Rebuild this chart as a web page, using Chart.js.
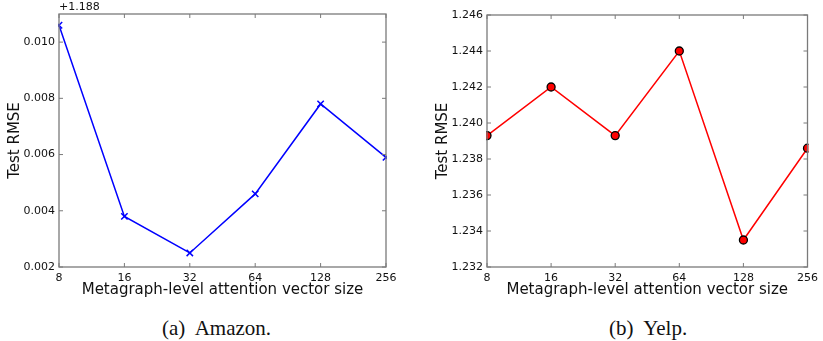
<!DOCTYPE html>
<html>
<head>
<meta charset="utf-8">
<script src="https://cdn.jsdelivr.net/npm/chart.js@4.4.0/dist/chart.umd.min.js"></script>
<style>
  body { margin: 0; background: #fff; width: 823px; height: 341px; position: relative; overflow: hidden; }
  #leftWrap { position: absolute; left: 0; top: 0; width: 410px; height: 305px; }
  #rightWrap { position: absolute; left: 410px; top: 0; width: 413px; height: 305px; }
  .caption { position: absolute; top: 316px; line-height: 24px; font-family: "Liberation Serif", "DejaVu Serif", serif; font-size: 21px; color: #111; white-space: pre; }
</style>
</head>
<body>
<div id="leftWrap"><canvas id="amazonChart" width="410" height="305"></canvas></div>
<div id="rightWrap"><canvas id="yelpChart" width="413" height="305"></canvas></div>
<div class="caption" style="left:162px">(a)  Amazon.</div>
<div class="caption" style="left:609px">(b)  Yelp.</div>

<script>
// data
const vectorSizes = ["8", "16", "32", "64", "128", "256"];

// Amazon values shown relative to the offset (+1.188), like the original plot
const amazonOffset = "+1.188";
const amazonRmse = [0.0106, 0.0038, 0.0025, 0.0046, 0.0078, 0.0059];
const amazonTicks = [0.002, 0.004, 0.006, 0.008, 0.010];

const yelpRmse = [1.2393, 1.2420, 1.2393, 1.2440, 1.2335, 1.2386];
const yelpTicks = [1.232, 1.234, 1.236, 1.238, 1.240, 1.242, 1.244, 1.246];

const tickFont = { family: "DejaVu Sans", size: 11 };
const titleFont = { family: "DejaVu Sans", size: 15 };
const frameColor = "#7a7a7a";

// frame + inward ticks on all four sides (classic matplotlib look)
const frameTicks = {
  id: "frameTicks",
  afterDraw(chart, args, opts) {
    const ctx = chart.ctx;
    const a = chart.chartArea;
    const x = chart.scales.x, y = chart.scales.y;
    ctx.save();
    ctx.strokeStyle = frameColor;
    ctx.lineWidth = 1.3;
    ctx.strokeRect(a.left, a.top, a.right - a.left, a.bottom - a.top);
    ctx.lineWidth = 1;
    ctx.beginPath();
    x.ticks.forEach((t, i) => {
      const px = x.getPixelForTick(i);
      ctx.moveTo(px, a.bottom); ctx.lineTo(px, a.bottom - 4);
      ctx.moveTo(px, a.top); ctx.lineTo(px, a.top + 4);
    });
    y.ticks.forEach((t) => {
      const py = y.getPixelForValue(t.value);
      ctx.moveTo(a.left, py); ctx.lineTo(a.left + 4, py);
      ctx.moveTo(a.right, py); ctx.lineTo(a.right - 4, py);
    });
    ctx.stroke();
    if (opts.offsetText) {
      ctx.fillStyle = "#111";
      ctx.font = "11px 'DejaVu Sans'";
      ctx.textAlign = "left";
      ctx.textBaseline = "bottom";
      ctx.fillText(opts.offsetText, a.left, a.top - 1);
    }
    ctx.restore();
  }
};

function makeChart(id, values, tickList, style) {
  return new Chart(document.getElementById(id), {
    type: "line",
    data: {
      labels: vectorSizes,
      datasets: [{
        data: values,
        borderColor: style.color,
        borderWidth: 1.5,
        pointStyle: style.point,
        pointRadius: style.radius,
        pointHoverRadius: style.radius,
        pointBackgroundColor: style.fill,
        pointBorderColor: style.pointBorder,
        pointBorderWidth: style.pointBorderWidth,
        tension: 0,
        clip: 1
      }]
    },
    options: {
      responsive: false,
      animation: false,
      events: [],
      layout: { padding: { left: 0, right: style.padRight, top: style.padTop, bottom: 0 } },
      plugins: {
        legend: { display: false },
        tooltip: { enabled: false },
        frameTicks: { offsetText: style.offsetText }
      },
      scales: {
        x: {
          type: "category",
          offset: false,
          grid: { display: false, drawTicks: false },
          border: { display: false },
          ticks: { font: tickFont, color: "#111", padding: 5, maxRotation: 0, autoSkip: false },
          title: { display: true, text: "Metagraph-level attention vector size", font: titleFont, color: "#111", padding: { top: 0, bottom: 6 } },
          afterFit(s) { s.height = 38; }
        },
        y: {
          min: tickList[0],
          max: style.yMax,
          grid: { display: false, drawTicks: false },
          border: { display: false },
          afterBuildTicks(s) { s.ticks = tickList.map(v => ({ value: v })); },
          ticks: { font: tickFont, color: "#111", padding: 4, callback: v => v.toFixed(3) },
          title: { display: true, text: "Test RMSE", font: titleFont, color: "#111", padding: { top: style.titlePad, bottom: 0 } },
          afterFit(s) { s.width = style.yWidth; }
        }
      }
    },
    plugins: [frameTicks]
  });
}

makeChart("amazonChart", amazonRmse, amazonTicks, {
  color: "#0000ff", point: "crossRot", radius: 4.5, fill: "#0000ff",
  pointBorder: "#0000ff", pointBorderWidth: 1.5,
  padRight: 24, padTop: 14, yWidth: 59, titlePad: 6, yMax: 0.011,
  offsetText: amazonOffset
});

makeChart("yelpChart", yelpRmse, yelpTicks, {
  color: "#ff0000", point: "circle", radius: 4, fill: "#ff0000",
  pointBorder: "#000000", pointBorderWidth: 1.3,
  padRight: 10, padTop: 15, yWidth: 77, titlePad: 24, yMax: 1.246,
  offsetText: null
});
</script>
</body>
</html>
